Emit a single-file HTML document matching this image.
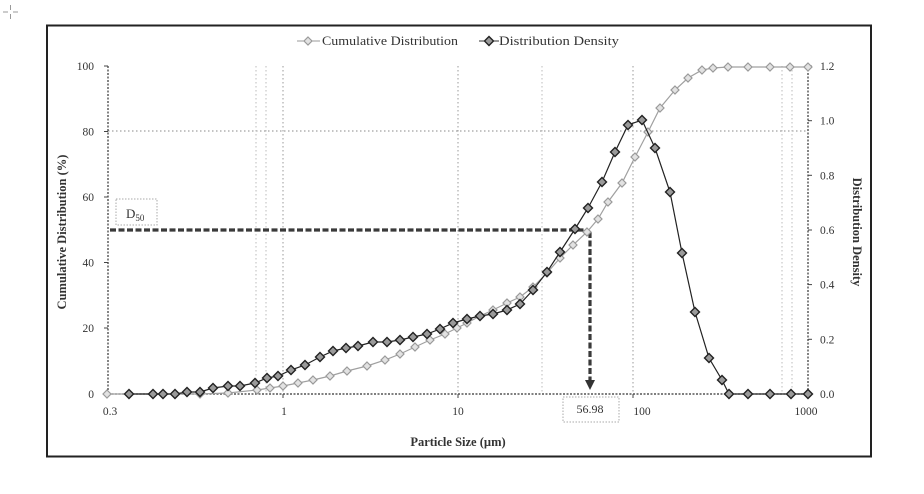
<!DOCTYPE html>
<html><head><meta charset="utf-8"><style>
html,body{margin:0;padding:0;background:#fff;}
svg{display:block;}
text{font-family:"Liberation Serif",serif;fill:#333;}
</style></head><body>
<svg width="924" height="494" viewBox="0 0 924 494" xmlns="http://www.w3.org/2000/svg">
<defs>
<g id="mc"><path d="M0,-4 L4,0 L0,4 L-4,0Z" fill="#e2e2e2" stroke="#9a9a9a" stroke-width="1.2"/></g>
<g id="md"><path d="M0,-4.5 L4.5,0 L0,4.5 L-4.5,0Z" fill="#9a9a9a" stroke="#222" stroke-width="1.4"/></g>
</defs>
<!-- crosshair -->
<g stroke="#999" stroke-width="1"><line x1="3" y1="12" x2="8" y2="12"/><line x1="13" y1="12" x2="18" y2="12"/><line x1="10.5" y1="5" x2="10.5" y2="10"/><line x1="10.5" y1="14" x2="10.5" y2="19"/></g>
<!-- frame -->
<rect x="47" y="25.5" width="824" height="431" fill="none" stroke="#222" stroke-width="2"/>
<!-- gridlines -->
<g stroke="#bbb" stroke-width="1" stroke-dasharray="1.5 2.5" fill="none">
<line x1="108" y1="131" x2="808" y2="131" stroke="#888"/>
<line x1="256" y1="66" x2="256" y2="394"/>
<line x1="266" y1="66" x2="266" y2="394"/>
<line x1="283" y1="66" x2="283" y2="394" stroke="#999"/>
<line x1="458" y1="66" x2="458" y2="394" stroke="#999"/>
<line x1="542" y1="66" x2="542" y2="394"/>
<line x1="633" y1="66" x2="633" y2="394" stroke="#999"/>
<line x1="782" y1="66" x2="782" y2="394"/>
<line x1="792" y1="66" x2="792" y2="394"/>
</g>
<!-- axes -->
<g stroke="#333" stroke-width="1.2" stroke-dasharray="2 1.5" fill="none">
<line x1="108" y1="66" x2="108" y2="394"/>
<line x1="808" y1="66" x2="808" y2="394"/>
<line x1="108" y1="394" x2="808" y2="394"/>
</g>
<g stroke="#444" stroke-width="1">
<line x1="104" y1="66" x2="108" y2="66"/><line x1="104" y1="131.5" x2="108" y2="131.5"/><line x1="104" y1="197" x2="108" y2="197"/><line x1="104" y1="262.5" x2="108" y2="262.5"/><line x1="104" y1="328" x2="108" y2="328"/><line x1="104" y1="394" x2="108" y2="394"/>
<line x1="808" y1="66" x2="812" y2="66"/><line x1="808" y1="120.7" x2="812" y2="120.7"/><line x1="808" y1="175.3" x2="812" y2="175.3"/><line x1="808" y1="230" x2="812" y2="230"/><line x1="808" y1="284.6" x2="812" y2="284.6"/><line x1="808" y1="339.3" x2="812" y2="339.3"/><line x1="808" y1="394" x2="812" y2="394"/>
<line x1="283" y1="394" x2="283" y2="398"/><line x1="458" y1="394" x2="458" y2="398"/><line x1="633" y1="394" x2="633" y2="398"/>
</g>
<!-- left tick labels -->
<g font-size="11.5" text-anchor="end">
<text x="94" y="70">100</text><text x="94" y="135.5">80</text><text x="94" y="201">60</text><text x="94" y="266.5">40</text><text x="94" y="332">20</text><text x="94" y="398">0</text>
</g>
<!-- right tick labels -->
<g font-size="11.5" text-anchor="start">
<text x="820" y="70">1.2</text><text x="820" y="124.7">1.0</text><text x="820" y="179.3">0.8</text><text x="820" y="234">0.6</text><text x="820" y="288.6">0.4</text><text x="820" y="343.3">0.2</text><text x="820" y="398">0.0</text>
</g>
<!-- x tick labels -->
<g font-size="11.5" text-anchor="middle">
<text x="110" y="415">0.3</text><text x="284" y="415">1</text><text x="458" y="415">10</text><text x="642" y="415">100</text><text x="806" y="415">1000</text>
</g>
<!-- axis titles -->
<text x="458" y="446" font-size="12.5" font-weight="bold" text-anchor="middle" fill="#222">Particle Size (µm)</text>
<text transform="translate(66,232) rotate(-90)" font-size="12.5" font-weight="bold" text-anchor="middle" fill="#222">Cumulative Distribution (%)</text>
<text transform="translate(853,232) rotate(90)" font-size="12.5" font-weight="bold" text-anchor="middle" fill="#222">Distribution Density</text>
<!-- legend -->
<line x1="297" y1="41" x2="320" y2="41" stroke="#999" stroke-width="1"/>
<use href="#mc" x="308" y="41"/>
<text x="322" y="45" font-size="12.5" textLength="136" lengthAdjust="spacingAndGlyphs">Cumulative Distribution</text>
<line x1="479" y1="41" x2="499" y2="41" stroke="#333" stroke-width="1"/>
<use href="#md" x="489" y="41"/>
<text x="499" y="45" font-size="12.5" textLength="120" lengthAdjust="spacingAndGlyphs">Distribution Density</text>
<!-- D50 box -->
<rect x="116" y="199" width="41" height="26" fill="#fff" stroke="#aaa" stroke-width="1" stroke-dasharray="1.5 1.5"/>
<text x="126" y="218" font-size="13" fill="#333">D<tspan font-size="9" dy="3">50</tspan></text>
<!-- 56.98 box -->
<rect x="563" y="397" width="56" height="25" fill="#fff" stroke="#aaa" stroke-width="1" stroke-dasharray="1.5 1.5"/>
<text x="590" y="413" font-size="12" text-anchor="middle">56.98</text>
<!-- D50 lines -->
<g stroke="#3a3a3a" stroke-width="3.2" stroke-dasharray="6 2.5" fill="none">
<line x1="110" y1="230" x2="588" y2="230"/>
<line x1="590" y1="232" x2="590" y2="380"/>
</g>
<path d="M585,380 L595,380 L590,390 Z" fill="#333"/>
<!-- cumulative series -->
<polyline fill="none" stroke="#a0a0a0" stroke-width="1.2" points="107,394 129,394 153,394 175,394 200,394 228,393 257,390 270,388 283,386 298,383 313,380 330,376 347,371 367,366 385,360 400,354 415,347 430,340 445,334 457,328 467,323 480,316 493,310 507,303 520,297 533,287 547,273 560,258 573,245 587,232 598,219 608,202 622,183 635,157 648,132 660,108 675,90 688,78 702,70 713,68 728,67 748,67 770,67 790,67 808,67"/>
<g>
<use href="#mc" x="107" y="394"/><use href="#mc" x="129" y="394"/><use href="#mc" x="153" y="394"/><use href="#mc" x="175" y="394"/><use href="#mc" x="200" y="394"/><use href="#mc" x="228" y="393"/><use href="#mc" x="257" y="390"/><use href="#mc" x="270" y="388"/><use href="#mc" x="283" y="386"/><use href="#mc" x="298" y="383"/><use href="#mc" x="313" y="380"/><use href="#mc" x="330" y="376"/><use href="#mc" x="347" y="371"/><use href="#mc" x="367" y="366"/><use href="#mc" x="385" y="360"/><use href="#mc" x="400" y="354"/><use href="#mc" x="415" y="347"/><use href="#mc" x="430" y="340"/><use href="#mc" x="445" y="334"/><use href="#mc" x="457" y="328"/><use href="#mc" x="467" y="323"/><use href="#mc" x="480" y="316"/><use href="#mc" x="493" y="310"/><use href="#mc" x="507" y="303"/><use href="#mc" x="520" y="297"/><use href="#mc" x="533" y="287"/><use href="#mc" x="547" y="273"/><use href="#mc" x="560" y="258"/><use href="#mc" x="573" y="245"/><use href="#mc" x="587" y="232"/><use href="#mc" x="598" y="219"/><use href="#mc" x="608" y="202"/><use href="#mc" x="622" y="183"/><use href="#mc" x="635" y="157"/><use href="#mc" x="648" y="132"/><use href="#mc" x="660" y="108"/><use href="#mc" x="675" y="90"/><use href="#mc" x="688" y="78"/><use href="#mc" x="702" y="70"/><use href="#mc" x="713" y="68"/><use href="#mc" x="728" y="67"/><use href="#mc" x="748" y="67"/><use href="#mc" x="770" y="67"/><use href="#mc" x="790" y="67"/><use href="#mc" x="808" y="67"/>
</g>
<!-- density series -->
<polyline fill="none" stroke="#222" stroke-width="1.2" points="129,394 153,394 163,394 175,394 187,392 200,392 213,388 228,386 240,386 255,383 267,378 278,376 291,370 305,365 320,357 333,351 346,348 358,346 373,342 387,342 400,340 413,337 427,334 440,329 453,323 467,319 480,316 493,314 507,310 520,304 533,290 547,272 560,252 575,229 588,208 602,182 615,152 628,125 642,120 655,148 670,192 682,253 695,312 709,358 722,380 729,394 748,394 770,394 791,394 808,394"/>
<g>
<use href="#md" x="129" y="394"/><use href="#md" x="153" y="394"/><use href="#md" x="163" y="394"/><use href="#md" x="175" y="394"/><use href="#md" x="187" y="392"/><use href="#md" x="200" y="392"/><use href="#md" x="213" y="388"/><use href="#md" x="228" y="386"/><use href="#md" x="240" y="386"/><use href="#md" x="255" y="383"/><use href="#md" x="267" y="378"/><use href="#md" x="278" y="376"/><use href="#md" x="291" y="370"/><use href="#md" x="305" y="365"/><use href="#md" x="320" y="357"/><use href="#md" x="333" y="351"/><use href="#md" x="346" y="348"/><use href="#md" x="358" y="346"/><use href="#md" x="373" y="342"/><use href="#md" x="387" y="342"/><use href="#md" x="400" y="340"/><use href="#md" x="413" y="337"/><use href="#md" x="427" y="334"/><use href="#md" x="440" y="329"/><use href="#md" x="453" y="323"/><use href="#md" x="467" y="319"/><use href="#md" x="480" y="316"/><use href="#md" x="493" y="314"/><use href="#md" x="507" y="310"/><use href="#md" x="520" y="304"/><use href="#md" x="533" y="290"/><use href="#md" x="547" y="272"/><use href="#md" x="560" y="252"/><use href="#md" x="575" y="229"/><use href="#md" x="588" y="208"/><use href="#md" x="602" y="182"/><use href="#md" x="615" y="152"/><use href="#md" x="628" y="125"/><use href="#md" x="642" y="120"/><use href="#md" x="655" y="148"/><use href="#md" x="670" y="192"/><use href="#md" x="682" y="253"/><use href="#md" x="695" y="312"/><use href="#md" x="709" y="358"/><use href="#md" x="722" y="380"/><use href="#md" x="729" y="394"/><use href="#md" x="748" y="394"/><use href="#md" x="770" y="394"/><use href="#md" x="791" y="394"/><use href="#md" x="808" y="394"/>
</g>
</svg>
</body></html>
